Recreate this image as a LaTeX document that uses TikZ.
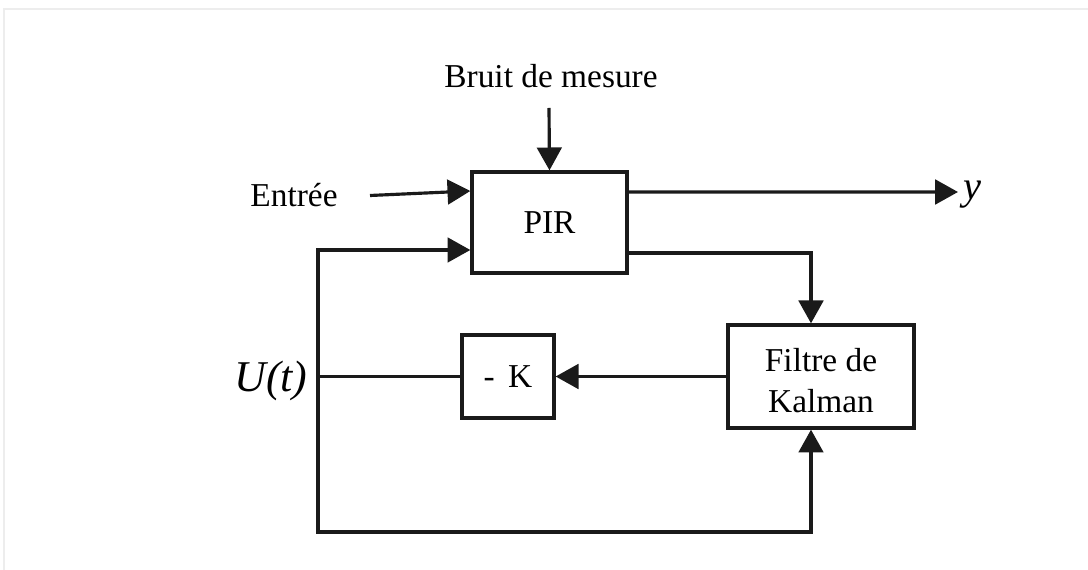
\documentclass[tikz,border=0pt]{standalone}
\usepackage{fontspec}
\setmainfont{Liberation Serif}
\usetikzlibrary{arrows.meta}
\definecolor{ink}{HTML}{1A1A1A}
\definecolor{frame}{HTML}{EDEDED}
\begin{document}
\begin{tikzpicture}[x=0.02cm,y=-0.02cm,
  lbl/.style={inner sep=0pt,font=\fontsize{19}{23}\selectfont},
  bigl/.style={inner sep=0pt,font=\fontsize{25}{28}\selectfont\itshape},
  blockbox/.style={draw=ink,line width=1.9pt,fill=white,inner sep=0pt,align=center,font=\fontsize{19}{23}\selectfont},
  wire/.style={draw=ink,line width=1.8pt},
  arr/.style={wire,-{Triangle[length=13pt,width=14pt]}}]
\useasboundingbox (0,0) rectangle (1088,570);
\draw[frame,line width=0.6pt] (4,570) -- (4,9) -- (1088,9);
% blocks
\node[blockbox,minimum width=3.1cm,minimum height=2.02cm] (PIR) at (549.5,222.5) {PIR};
\node[blockbox,minimum width=1.84cm,minimum height=1.66cm] (K) at (508,376.5) {-\hspace{0.4em}K};
\node[blockbox,minimum width=3.72cm,minimum height=2.06cm] (Kal) at (821,376.5) {\rule{0pt}{18pt}Filtre de\\Kalman};
% labels
\node[lbl] (bruit) at (551,76) {Bruit de mesure};
\node[lbl] (entree) at (294,195) {Entrée};
\node[bigl] (U) at (271,381) {U(t)};
\node[inner sep=0pt,font=\fontsize{23}{26}\selectfont\itshape] (yout) at (972,195) {y};
% coordinates
\coordinate (bS) at (549,108);
\coordinate (eS) at (370,195.5);
\coordinate (yE) at (958,192);
\coordinate (junc) at (318,376.5);
\coordinate (bot) at (318,532);
% connectors
\draw[arr] (bS) -- (PIR.north);
\draw[arr] (eS) -- ([yshift=0.63cm]PIR.west);
\draw[arr] ([yshift=0.61cm]PIR.east) -- (yE);
\draw[arr] ([yshift=-0.61cm]PIR.east) -| ([xshift=-0.2cm]Kal.north);
\draw[arr] (Kal.west) -- (K.east);
\draw[wire] (K.west) -- (junc);
\draw[arr] (junc) |- ([yshift=-0.55cm]PIR.west);
\draw[arr] (junc) -- (bot) -| ([xshift=-0.2cm]Kal.south);
\end{tikzpicture}
\end{document}
